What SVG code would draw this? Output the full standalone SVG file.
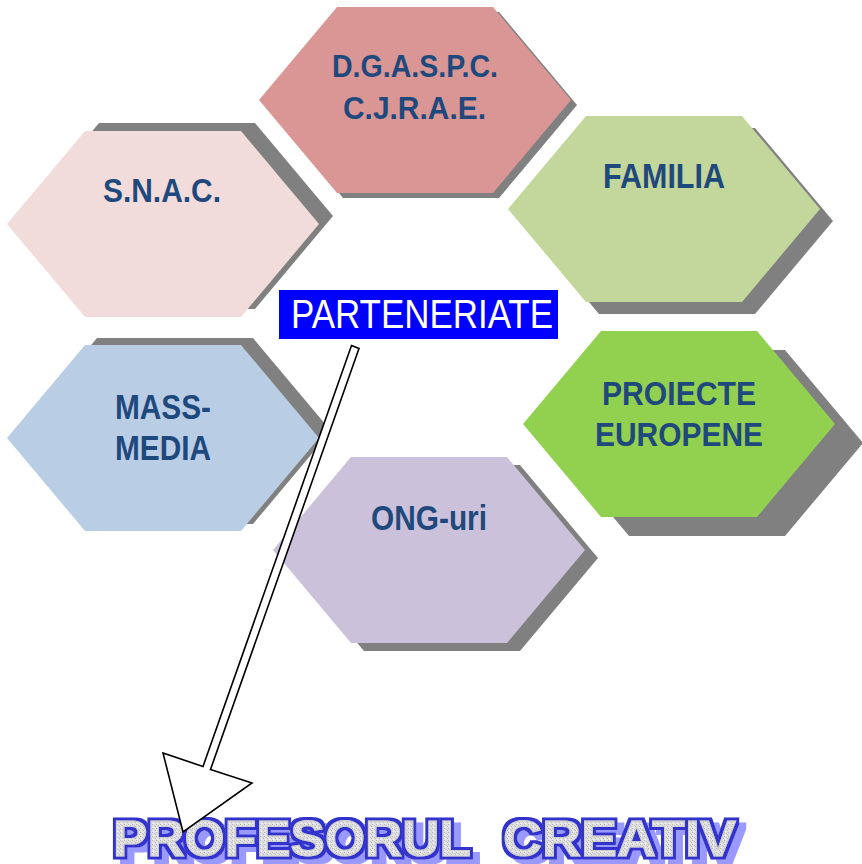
<svg xmlns="http://www.w3.org/2000/svg" width="862" height="864" viewBox="0 0 862 864">
  <defs>
    <polygon id="hex" points="0,93 78,0 234,0 312,93 234,186 78,186"/>
    <pattern id="granite" width="4" height="4" patternUnits="userSpaceOnUse">
      <rect width="4" height="4" fill="#E0E0E0"/>
      <rect x="0" y="0" width="1" height="1" fill="#B4B4B4"/>
      <rect x="2" y="1" width="1" height="1" fill="#C6C6C6"/>
      <rect x="1" y="3" width="1" height="1" fill="#F6F6F6"/>
      <rect x="3" y="2" width="1" height="1" fill="#BBBBBB"/>
    </pattern>
    <filter id="wordart" x="-3%" y="-25%" width="106%" height="160%">
      <feMorphology in="SourceAlpha" operator="dilate" radius="2.8" result="thick"/>
      <feFlood flood-color="#3333CC" result="blue"/>
      <feComposite in="blue" in2="thick" operator="in" result="outline"/>
      <feOffset in="thick" dx="7" dy="5" result="shOff"/>
      <feFlood flood-color="#9999FF" result="lav"/>
      <feComposite in="lav" in2="shOff" operator="in" result="shadow"/>
      <feMerge>
        <feMergeNode in="shadow"/>
        <feMergeNode in="outline"/>
        <feMergeNode in="SourceGraphic"/>
      </feMerge>
    </filter>
  </defs>
  <style>
    .shadow { fill: #808080; }
    .lbl { font-family: "Liberation Sans", Arial, sans-serif; font-weight: bold; fill: #1F497D; }
    .big { font-family: "Liberation Sans", Arial, sans-serif; font-weight: bold; font-size: 50px; fill: url(#granite); stroke: #D0D0D0; stroke-width: 1; }
  </style>
  <rect width="862" height="864" fill="#FFFFFF"/>

  <g id="node-snac">
    <use href="#hex" class="shadow" transform="translate(21,123)"/>
    <use href="#hex" fill="#F2DCDB" transform="translate(7,131)"/>
    <text class="lbl" x="103" y="202" font-size="34" textLength="118" lengthAdjust="spacingAndGlyphs">S.N.A.C.</text>
  </g>

  <g id="node-dgaspc">
    <use href="#hex" class="shadow" transform="translate(265,12)"/>
    <use href="#hex" fill="#D99694" transform="translate(259,7)"/>
    <text class="lbl" x="332" y="77" font-size="31" textLength="166" lengthAdjust="spacingAndGlyphs">D.G.A.S.P.C.</text>
    <text class="lbl" x="343" y="119" font-size="31" textLength="143" lengthAdjust="spacingAndGlyphs">C.J.R.A.E.</text>
  </g>

  <g id="node-familia">
    <use href="#hex" class="shadow" transform="translate(521,128)"/>
    <use href="#hex" fill="#C3D69B" transform="translate(508,116)"/>
    <text class="lbl" x="603" y="188" font-size="35" textLength="122" lengthAdjust="spacingAndGlyphs">FAMILIA</text>
  </g>

  <g id="node-proiecte">
    <use href="#hex" class="shadow" transform="translate(551,350)"/>
    <use href="#hex" fill="#92D050" transform="translate(523,331)"/>
    <text class="lbl" x="602" y="405" font-size="34" textLength="154" lengthAdjust="spacingAndGlyphs">PROIECTE</text>
    <text class="lbl" x="595" y="446" font-size="34" textLength="168" lengthAdjust="spacingAndGlyphs">EUROPENE</text>
  </g>

  <g id="node-massmedia">
    <use href="#hex" class="shadow" transform="translate(19,338)"/>
    <use href="#hex" fill="#B9CDE5" transform="translate(7,345)"/>
    <text class="lbl" x="115" y="419" font-size="35" textLength="96" lengthAdjust="spacingAndGlyphs">MASS-</text>
    <text class="lbl" x="115" y="460" font-size="35" textLength="96" lengthAdjust="spacingAndGlyphs">MEDIA</text>
  </g>

  <g id="node-ong">
    <use href="#hex" class="shadow" transform="translate(286,465)"/>
    <use href="#hex" fill="#CCC1DA" transform="translate(273,457)"/>
    <text class="lbl" x="371" y="530" font-size="35" textLength="116" lengthAdjust="spacingAndGlyphs">ONG-uri</text>
  </g>

  <g id="node-parteneriate">
    <rect x="279" y="290" width="279" height="49" fill="#0000FF"/>
    <text x="291" y="328" font-family="'Liberation Sans', Arial, sans-serif" font-size="40" fill="#FFFFFF" textLength="262" lengthAdjust="spacingAndGlyphs">PARTENERIATE</text>
  </g>

  <g id="node-profesorul" filter="url(#wordart)">
    <text class="big" x="113" y="856" textLength="358" lengthAdjust="spacingAndGlyphs">PROFESORUL</text>
    <text class="big" x="503" y="856" textLength="233" lengthAdjust="spacingAndGlyphs">CREATIV</text>
  </g>

  <g id="connectors">
    <polygon points="351.5,345.5 359,348.5 210.5,769.5 252,783 183,832 163,753 203,766.5" fill="#FFFFFF" stroke="#000000" stroke-width="1.6" stroke-linejoin="miter"/>
  </g>
</svg>
